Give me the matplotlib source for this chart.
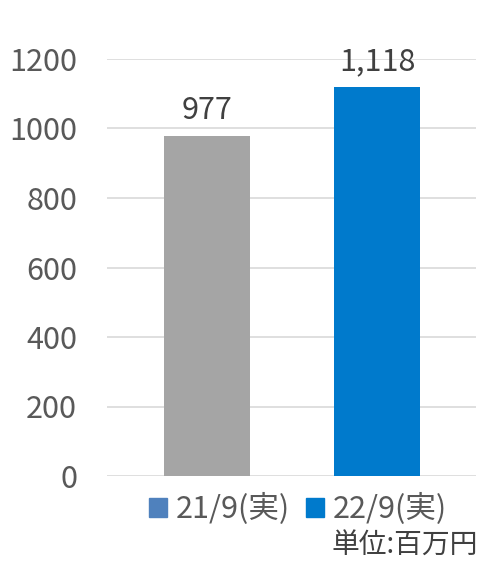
import matplotlib
matplotlib.use("Agg")
import matplotlib.pyplot as plt
from matplotlib.patches import Patch

plt.rcParams['font.family'] = ['Noto Sans CJK JP', 'DejaVu Sans']

series = ['21/9(実)', '22/9(実)']
values = [977, 1118]
labels = ['977', '1,118']
bar_colors = ['#A5A5A5', '#007ACC']
legend_colors = ['#4F81BD', '#007ACC']
yticks = [0, 200, 400, 600, 800, 1000, 1200]

fig = plt.figure(figsize=(4.79, 5.61), dpi=100)
W, H = 479, 561
# plot area in pixels: x 107..476, y 59..476
ax = fig.add_axes([107 / W, 1 - 476 / H, 369 / W, (476 - 59) / H])

x = [0, 1]
ax.bar(x, values, width=0.506, color=bar_colors, zorder=3)
for xi, v, lab in zip(x, values, labels):
    ax.text(xi, v + 30, lab, ha='center', va='bottom', fontsize=22, color='#404040')

ax.set_xlim(-0.588, 1.582)
ax.set_ylim(0, 1200)
ax.set_yticks(yticks)
ax.set_yticklabels([str(t) for t in yticks], fontsize=22, color='#595959')
ax.set_xticks([])
ax.grid(axis='y', color='#D9D9D9', linewidth=1.2, zorder=0)
ax.tick_params(axis='y', length=0, pad=21.6)
for s in ax.spines.values():
    s.set_visible(False)

handles = [Patch(color=c) for c in legend_colors]
fig.legend(handles, series, loc='center', bbox_to_anchor=(298 / W, 1 - 509 / H),
           ncol=2, frameon=False, fontsize=22, handlelength=0.6, handleheight=0.6,
           handletextpad=0.3, columnspacing=0.5, labelcolor='#595959', borderpad=0)

fig.text(478 / W, 1 - 546 / H, '単位:百万円', ha='right', va='center', fontsize=20, color='#404040')

fig.savefig('out.png', dpi=100)
